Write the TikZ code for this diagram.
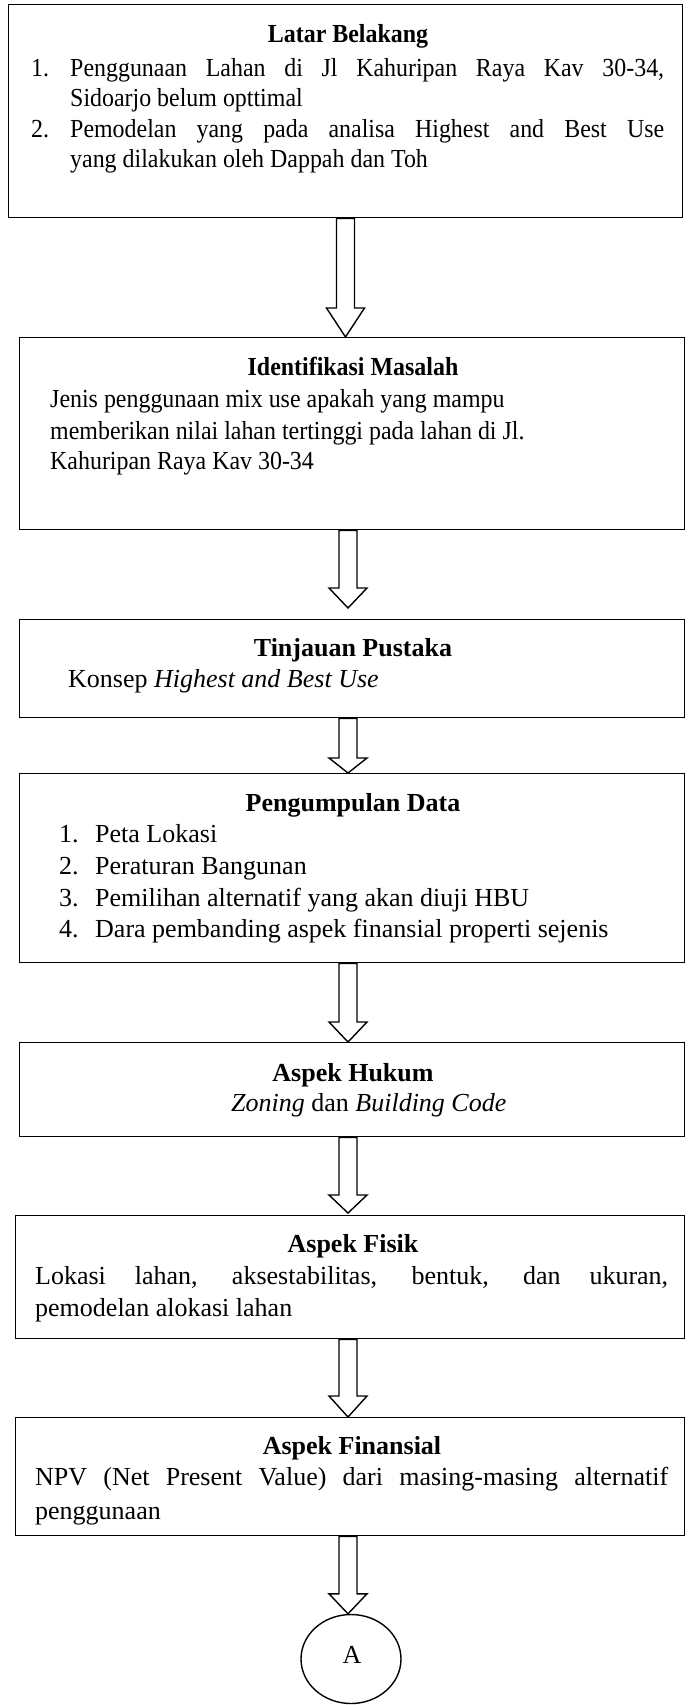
\documentclass[tikz,border=0pt]{standalone}
\usepackage{graphicx}
\usepackage{fontspec}
\setmainfont{Liberation Serif}
\usetikzlibrary{calc,shapes.geometric}
\tikzset{
  box/.style={draw, line width=1.4pt, inner sep=0, anchor=north west},
  blk/.style={draw, line width=1.4pt, fill=white, line join=miter},
  txt/.style={font=\fontsize{26}{31}\selectfont, inner sep=0, anchor=base west},
  ttl/.style={font=\fontsize{26}{31}\selectfont\bfseries, inner sep=0, anchor=base},
}
\newcommand\sqA[1]{\scalebox{0.92}[1]{#1}}
\newcommand\sqB[1]{\scalebox{0.92}[1]{#1}}
% #1 from node, #2 to node, #3 x, #4 head length, #5 gap at tip
\newcommand\barrow[5]{%
  \draw[blk] let \p1=(#1.south), \p2=(#2.north) in
    ({#3pt-9pt},\y1) -- ({#3pt+9pt},\y1) -- ({#3pt+9pt},{\y2+#5pt+#4pt})
    -- ({#3pt+19pt},{\y2+#5pt+#4pt}) -- ({#3pt},{\y2+#5pt})
    -- ({#3pt-19pt},{\y2+#5pt+#4pt}) -- ({#3pt-9pt},{\y2+#5pt+#4pt}) -- cycle;}
\begin{document}
\begin{tikzpicture}[x=1pt,y=-1pt]
\useasboundingbox (0,0) rectangle (689,1705);

% boxes
\node[box, minimum width=674, minimum height=213] (b1) at (8,4) {};
\node[box, minimum width=665, minimum height=192] (b2) at (19,337) {};
\node[box, minimum width=665, minimum height=98]  (b3) at (19,619) {};
\node[box, minimum width=665, minimum height=189] (b4) at (19,773) {};
\node[box, minimum width=665, minimum height=94]  (b5) at (19,1042) {};
\node[box, minimum width=669, minimum height=123] (b6) at (15,1215) {};
\node[box, minimum width=669, minimum height=118] (b7) at (15,1417) {};
\node[draw, line width=1.4pt, ellipse, minimum width=100, minimum height=89, inner sep=0] (cA) at (351,1659) {};

% box 1
\node[ttl] (t1) at (348,42) {\sqA{Latar Belakang}};
\node[txt] (t1n1) at (31,76) {\sqA{1.}};
\node[txt] (t1l1) at (70,76) {\makebox[594pt][s]{\sqA{Penggunaan} \sqA{Lahan} \sqA{di} \sqA{Jl} \sqA{Kahuripan} \sqA{Raya} \sqA{Kav} \sqA{30-34,}}};
\node[txt] (t1l2) at (70,106) {\sqA{Sidoarjo belum opttimal}};
\node[txt] (t1n2) at (31,137) {\sqA{2.}};
\node[txt] (t1l3) at (70,137) {\makebox[594pt][s]{\sqA{Pemodelan} \sqA{yang} \sqA{pada} \sqA{analisa} \sqA{Highest} \sqA{and} \sqA{Best} \sqA{Use}}};
\node[txt] (t1l4) at (70,167) {\sqA{yang dilakukan oleh Dappah dan Toh}};

% box 2
\node[ttl] (t2) at (353,375) {\sqB{Identifikasi Masalah}};
\node[txt] (t2l1) at (50,407) {\sqB{Jenis penggunaan mix use apakah yang mampu}};
\node[txt] (t2l2) at (50,439) {\sqB{memberikan nilai lahan tertinggi pada lahan di Jl.}};
\node[txt] (t2l3) at (50,469) {\sqB{Kahuripan Raya Kav 30-34}};

% box 3
\node[ttl] (t3) at (353,656) {Tinjauan Pustaka};
\node[txt] (t3l1) at (68,687) {Konsep \textit{Highest and Best Use}};

% box 4
\node[ttl] (t4) at (353,811) {Pengumpulan Data};
\node[txt] (t4n1) at (59,842) {1.};
\node[txt] (t4l1) at (95,842) {Peta Lokasi};
\node[txt] (t4n2) at (59,874) {2.};
\node[txt] (t4l2) at (95,874) {Peraturan Bangunan};
\node[txt] (t4n3) at (59,906) {3.};
\node[txt] (t4l3) at (95,906) {Pemilihan alternatif yang akan diuji HBU};
\node[txt] (t4n4) at (59,937) {4.};
\node[txt] (t4l4) at (95,937) {Dara pembanding aspek finansial properti sejenis};

% box 5
\node[ttl] (t5) at (353,1081) {Aspek Hukum};
\node[txt] (t5l1) at (231,1111) {\textit{Zoning} dan \textit{Building Code}};

% box 6
\node[ttl] (t6) at (353,1252) {Aspek Fisik};
\node[txt] (t6l1) at (35,1284) {\makebox[633pt][s]{Lokasi lahan, aksestabilitas, bentuk, dan ukuran,}};
\node[txt] (t6l2) at (35,1316) {pemodelan alokasi lahan};

% box 7
\node[ttl] (t7) at (352,1454) {Aspek Finansial};
\node[txt] (t7l1) at (35,1485) {\makebox[633pt][s]{NPV (Net Present Value) dari masing-masing alternatif}};
\node[txt] (t7l2) at (35,1519) {penggunaan};

% connector label
\node[font=\fontsize{26}{31}\selectfont, inner sep=0, anchor=base] (tA) at (352,1663) {A};

% block arrows
\barrow{b1}{b2}{345.5}{29}{0}
\barrow{b2}{b3}{348}{20}{11}
\barrow{b3}{b4}{348}{15}{0}
\barrow{b4}{b5}{348}{20}{0}
\barrow{b5}{b6}{348}{18}{2}
\barrow{b6}{b7}{348}{21}{0}
\barrow{b7}{cA}{348}{20}{0}
\end{tikzpicture}
\end{document}
